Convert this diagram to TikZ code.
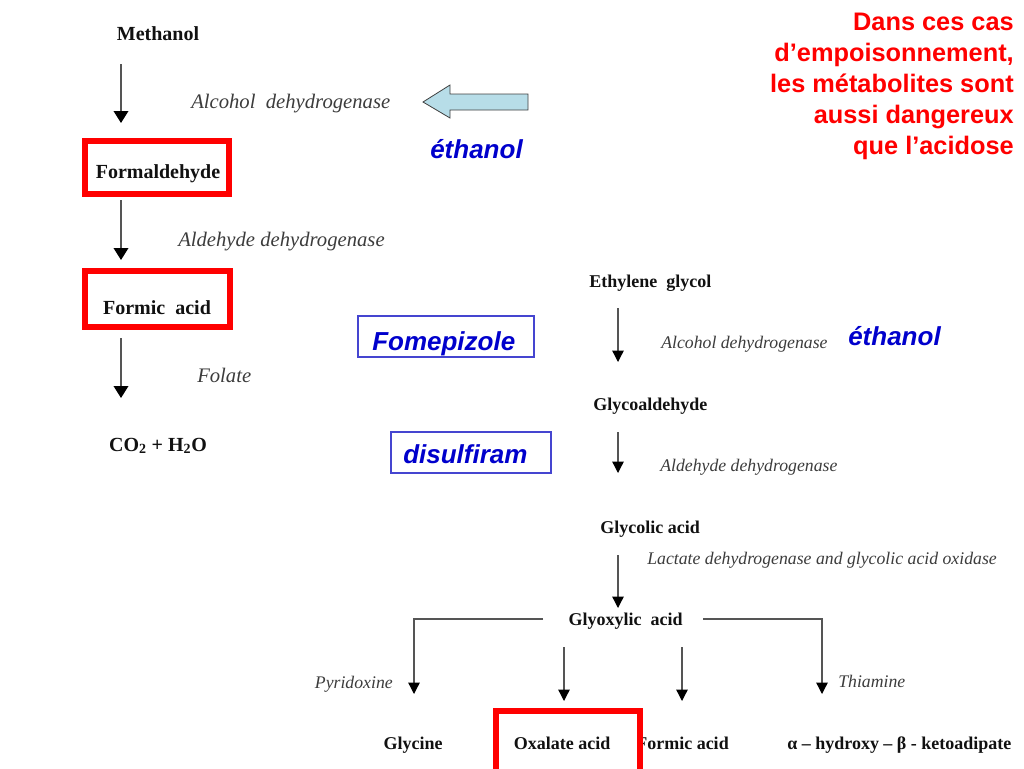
\documentclass[tikz,border=0pt]{standalone}
\usepackage{fontspec}
\setmainfont{Liberation Serif}
\newfontfamily\arialf{Liberation Sans}
\usetikzlibrary{arrows.meta}
\definecolor{blk}{HTML}{111111}
\definecolor{itg}{HTML}{3C3C3C}
\definecolor{lineg}{HTML}{555555}
\definecolor{bblue}{HTML}{0000CC}
\definecolor{boxblue}{HTML}{4545D0}
\definecolor{arrfill}{HTML}{B7DDE8}
\begin{document}
\begin{tikzpicture}[x=0.75pt,y=-0.75pt,
 lbold/.style={font=\fontsize{15}{18}\selectfont\bfseries, text=blk, inner sep=0pt, anchor=base},
 litalic/.style={font=\fontsize{15.5}{18}\selectfont\itshape, text=itg, inner sep=0pt, anchor=base west},
 rbold/.style={font=\fontsize{13.5}{16}\selectfont\bfseries, text=blk, inner sep=0pt, anchor=base},
 ritalic/.style={font=\fontsize{13.3}{16}\selectfont\itshape, text=itg, inner sep=0pt, anchor=base west},
 drug/.style={font=\fontsize{19.5}{22}\selectfont\arialf\bfseries\itshape, text=bblue, inner sep=0pt, anchor=base west},
 drugbox/.style={draw=boxblue, line width=0.8pt, inner sep=0pt},
 redbox/.style={draw=red, line width=4.8pt, fill=white, inner sep=0pt},
 warn/.style={font=\fontsize{19}{23}\selectfont\arialf\bfseries, text=red, inner sep=0pt, anchor=base east},
 larrow/.style={draw=lineg, line width=1.1pt, -{Triangle[width=11pt,length=9pt,color=black]}},
 rarrow/.style={draw=lineg, line width=1pt, -{Triangle[width=8.5pt,length=8.5pt,color=black]}},
]
\useasboundingbox (0,0) rectangle (1024,768);
\clip (0,0) rectangle (1024,768);

% ---------- Methanol pathway ----------
\node[lbold] (methanol) at (158,40) {Methanol};
\node[redbox, minimum width=108pt, minimum height=39.75pt] (fabox) at (157,167.5) {};
\node[lbold] (formald) at (158,178) {Formaldehyde};
\node[redbox, minimum width=108.75pt, minimum height=42pt] (fobox) at (157.5,299) {};
\node[lbold] (formic) at (157,314) {Formic\ \ acid};
\node[lbold] (co2) at (158,451) {CO\textsubscript{2} + H\textsubscript{2}O};

\node[litalic] (adh1) at (191,108) {Alcohol\ \ dehydrogenase};
\node[litalic] (aldh1) at (178,246) {Aldehyde dehydrogenase};
\node[litalic] (folate) at (197,382) {Folate};

\coordinate (m1) at (121,64);  \coordinate (m2) at (121,123);
\coordinate (m3) at (121,200); \coordinate (m4) at (121,260);
\coordinate (m5) at (121,338); \coordinate (m6) at (121,398);
\draw[larrow] (m1) -- (m2);
\draw[larrow] (m3) -- (m4);
\draw[larrow] (m5) -- (m6);

% block arrow and drug labels
\draw[fill=arrfill, draw=black!75, line width=0.6pt]
  (423,102) -- (450,85) -- (450,94) -- (528,94) -- (528,110) -- (450,110) -- (450,118) -- cycle;
\node[drug] (eth1) at (430,158) {éthanol};

\node[drugbox, minimum width=132pt, minimum height=30.75pt] (fomebox) at (446,336.5) {};
\node[drug] (fome) at (372,350) {Fomepizole};
\node[drugbox, minimum width=120pt, minimum height=30.75pt] (disbox) at (471,452.5) {};
\node[drug] (disul) at (403,463) {disulfiram};

% warning text
\node[warn] (w1) at (1014,30) {Dans ces cas};
\node[warn] (w2) at (1014,61) {d’empoisonnement,};
\node[warn] (w3) at (1014,92) {les métabolites sont};
\node[warn] (w4) at (1014,123) {aussi dangereux};
\node[warn] (w5) at (1014,154) {que l’acidose};

% ---------- Ethylene glycol pathway ----------
\node[rbold, anchor=base west] (eg) at (589,287) {Ethylene\ \ glycol};
\node[ritalic] (adh2) at (661,348) {Alcohol dehydrogenase};
\node[drug] (eth2) at (848,345) {éthanol};
\node[rbold, anchor=base west] (glyald) at (593,410) {Glycoaldehyde};
\node[ritalic] (aldh2) at (660,471) {Aldehyde dehydrogenase};
\node[rbold] (glycolic) at (650,533) {Glycolic acid};
\node[ritalic] (ldh) at (647,564) {Lactate dehydrogenase and glycolic acid oxidase};
\node[rbold] (glyox) at (625.5,625) {Glyoxylic\ \ acid};
\node[ritalic, anchor=base east] (pyr) at (393,688) {Pyridoxine};
\node[ritalic] (thia) at (838,687) {Thiamine};

\node[rbold] (glycine) at (413,749) {Glycine};
\node[rbold, anchor=base west] (formic2) at (636,749) {Formic acid};
\node[redbox, minimum width=108pt, minimum height=60pt] (oxbox) at (568,751) {};
\node[rbold] (oxalate) at (562,749) {Oxalate acid};
\node[rbold, anchor=base west] (keto) at (787,749) {α – hydroxy – β - ketoadipate};

\coordinate (e1) at (618,308); \coordinate (e2) at (618,362);
\coordinate (e3) at (618,432); \coordinate (e4) at (618,473);
\coordinate (e5) at (618,555); \coordinate (e6) at (618,608);
\draw[rarrow] (e1) -- (e2);
\draw[rarrow] (e3) -- (e4);
\draw[rarrow] (e5) -- (e6);

\coordinate (l0) at (543,619); \coordinate (l1) at (414,619); \coordinate (l2) at (414,694);
\coordinate (r0) at (703,619); \coordinate (r1) at (822,619); \coordinate (r2) at (822,694);
\draw[rarrow] (l0) -- (l1) -- (l2);
\draw[rarrow] (r0) -- (r1) -- (r2);
\coordinate (c1) at (564,647); \coordinate (c2) at (564,701);
\coordinate (d1) at (682,647); \coordinate (d2) at (682,701);
\draw[rarrow] (c1) -- (c2);
\draw[rarrow] (d1) -- (d2);
\end{tikzpicture}
\end{document}
